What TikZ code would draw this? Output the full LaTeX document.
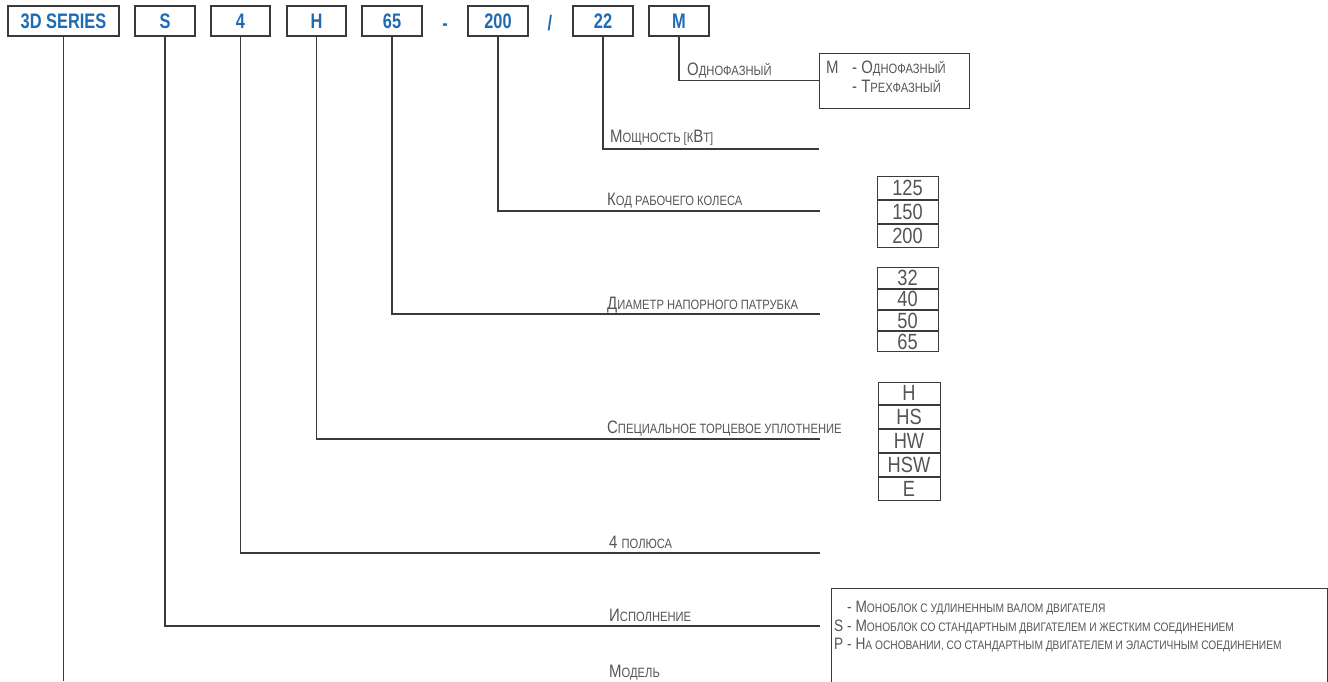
\documentclass[tikz,border=0pt]{standalone}
\usepackage{fontspec}
\setmainfont{Liberation Sans}
\newfontfamily\codefont[FakeStretch=0.78]{Liberation Sans Bold}
\newfontfamily\labfont[FakeStretch=0.83]{Liberation Sans}
\usetikzlibrary{positioning}

\definecolor{codeblue}{HTML}{1C6BB3}
\definecolor{labgray}{HTML}{555555}
\definecolor{linegray}{HTML}{3A3A3A}

\newcommand{\sm}[1]{{\fontsize{13.5}{15}\selectfont #1}}
\newcommand{\osm}[1]{{\fontsize{12.3}{14}\selectfont #1}}

\tikzstyle{codebox} = [rectangle, draw=linegray, line width=1.3pt, minimum height=30pt, minimum width=60pt, inner sep=0pt, text=codeblue, font=\codefont\fontsize{21}{21}\selectfont]
\tikzstyle{sep} = [anchor=base, inner sep=0pt, text=codeblue, font=\codefont\fontsize{21}{21}\selectfont]
\tikzstyle{lab} = [anchor=base west, inner sep=0pt, text=labgray, font=\labfont\fontsize{18}{18}\selectfont]
\tikzstyle{opt} = [anchor=base west, inner sep=0pt, text=labgray, font=\labfont\fontsize{16.5}{16.5}\selectfont]
\tikzstyle{cell} = [rectangle, draw=linegray, line width=1pt, minimum width=61pt, inner sep=0pt, text=labgray, font=\labfont\fontsize{22}{22}\selectfont]
\tikzstyle{frame} = [rectangle, draw=linegray, line width=1pt, inner sep=0pt]
\tikzstyle{lead} = [draw=linegray, line width=1.1pt]

\begin{document}
\begin{tikzpicture}[x=1pt, y=-1pt]
	\useasboundingbox (0,0) rectangle (1328,681);
	
	% type code
	\node (series) [codebox, minimum width=111pt] at (63.5,21) {3D SERIES};
	\node (exec) [codebox] at (165,21) {S};
	\node (poles) [codebox, minimum width=59pt] at (240.5,21) {4};
	\node (seal) [codebox, minimum width=59pt] at (316.5,21) {H};
	\node (dn) [codebox] at (392,21) {65};
	\node (dash) [sep] at (445,30) {-};
	\node (imp) [codebox] at (498,21) {200};
	\node (slash) [sep] at (550,30) {/};
	\node (kw) [codebox] at (603,21) {22};
	\node (ph) [codebox] at (679,21) {M};
	
	% line ends
	\coordinate (endSeries) at (63.5,681);
	\coordinate (endExec) at (820,626);
	\coordinate (endPoles) at (820,553);
	\coordinate (endSeal) at (820,439);
	\coordinate (endDn) at (820,314);
	\coordinate (endImp) at (820,211);
	\coordinate (endKw) at (819,149);
	
	% labels
	\node (lphase) [lab] at (687,75) {О\sm{ДНОФАЗНЫЙ}};
	\node (lkw) [lab] at (610,142) {М\sm{ОЩНОСТЬ [К}В\sm{Т]}};
	\node (limp) [lab] at (607,205) {К\sm{ОД РАБОЧЕГО КОЛЕСА}};
	\node (ldn) [lab] at (607,309) {Д\sm{ИАМЕТР НАПОРНОГО ПАТРУБКА}};
	\node (lseal) [lab] at (607,433) {С\sm{ПЕЦИАЛЬНОЕ ТОРЦЕВОЕ УПЛОТНЕНИЕ}};
	\node (lpoles) [lab] at (609,548) {4 \sm{ПОЛЮСА}};
	\node (lexec) [lab] at (609,621) {И\sm{СПОЛНЕНИЕ}};
	\node (lseries) [lab] at (609,677) {М\sm{ОДЕЛЬ}};
	
	% phase box
	\node (phbox) [frame, minimum width=150pt, minimum height=55pt] at (894,80.5) {};
	\node (phM) [lab] at (826,73) {M};
	\node (ph1) [lab] at (852,73) {- О\sm{ДНОФАЗНЫЙ}};
	\node (ph3) [lab] at (852,92) {- Т\sm{РЕХФАЗНЫЙ}};
	
	% impeller
	\node (i125) [cell, minimum height=22.7pt] at (907.5,188.3) {125};
	\node (i150) [cell, minimum height=22.7pt, below=0pt of i125] {150};
	\node (i200) [cell, minimum height=22.7pt, below=0pt of i150] {200};
	
	% outlet
	\node (d32) [cell, minimum height=20.25pt] at (907.5,278.1) {32};
	\node (d40) [cell, minimum height=20.25pt, below=0pt of d32] {40};
	\node (d50) [cell, minimum height=20.25pt, below=0pt of d40] {50};
	\node (d65) [cell, minimum height=20.25pt, below=0pt of d50] {65};
	
	% seal
	\node (sH) [cell, minimum width=62pt, minimum height=22.8pt] at (909,393.4) {H};
	\node (sHS) [cell, minimum width=62pt, minimum height=22.8pt, below=0pt of sH] {HS};
	\node (sHW) [cell, minimum width=62pt, minimum height=22.8pt, below=0pt of sHS] {HW};
	\node (sHSW) [cell, minimum width=62pt, minimum height=22.8pt, below=0pt of sHW] {HSW};
	\node (sE) [cell, minimum width=62pt, minimum height=22.8pt, below=0pt of sHSW] {E};
	
	% execution box
	\node (optbox) [frame, anchor=north west, minimum width=496pt, minimum height=110pt] at (831,588) {};
	\node (opt1) [opt] at (847,612) {- М\osm{ОНОБЛОК С УДЛИНЕННЫМ ВАЛОМ ДВИГАТЕЛЯ}};
	\node (optS) [opt] at (834,631) {S};
	\node (opt2) [opt] at (847,631) {- М\osm{ОНОБЛОК СО СТАНДАРТНЫМ ДВИГАТЕЛЕМ И ЖЕСТКИМ СОЕДИНЕНИЕМ}};
	\node (optP) [opt] at (834,649) {P};
	\node (opt3) [opt] at (847,649) {- Н\osm{А ОСНОВАНИИ, СО СТАНДАРТНЫМ ДВИГАТЕЛЕМ И ЭЛАСТИЧНЫМ СОЕДИНЕНИЕМ}};
	
	
	\draw [lead] (series.south) -- (endSeries);
	\draw [lead] (exec.south) |- (endExec);
	\draw [lead] (poles.south) |- (endPoles);
	\draw [lead] (seal.south) |- (endSeal);
	\draw [lead] (dn.south) |- (endDn);
	\draw [lead] (imp.south) |- (endImp);
	\draw [lead] (kw.south) |- (endKw);
	\draw [lead] (ph.south) |- (phbox.west);
	
\end{tikzpicture}
\end{document}
